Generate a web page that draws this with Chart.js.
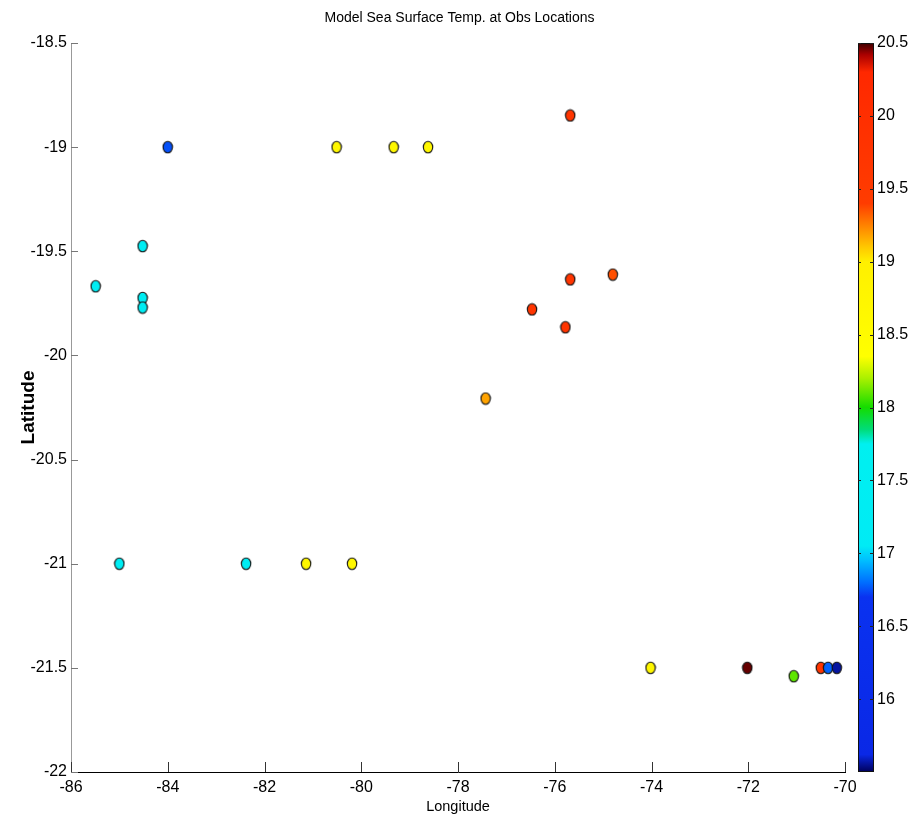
<!DOCTYPE html>
<html>
<head>
<meta charset="utf-8">
<title>Model Sea Surface Temp. at Obs Locations</title>
<script src="https://cdn.jsdelivr.net/npm/chart.js@4/dist/chart.umd.min.js"></script>
<style>
  html, body { margin: 0; padding: 0; background: #fff; }
  #wrap { width: 919px; height: 820px; }
</style>
</head>
<body>
<div id="wrap"><canvas id="sstChart" width="919" height="820"></canvas></div>
<script>
const lon = [-84.0, -80.51, -79.33, -78.62, -75.68, -84.52, -85.49, -84.52, -84.52, -75.68, -74.8, -76.47,
  -75.78, -77.43, -85.0, -82.38, -81.14, -80.19, -74.02, -72.02, -71.06, -70.5, -70.35, -70.17]
const lat = [-19.0, -19.0, -19.0, -19.0, -18.848, -19.475, -19.668, -19.724, -19.77, -19.635, -19.612, -19.779,
  -19.865, -20.207, -21.0, -21.0, -21.0, -21.0, -21.5, -21.5, -21.54, -21.5, -21.5, -21.5]
const sst = [16.75, 18.7, 18.7, 18.7, 19.7, 17.3, 17.3, 17.3, 17.3, 19.7, 19.36, 19.7,
  19.7, 19.18, 17.3, 17.3, 18.7, 18.7, 18.7, 20.47, 18.1, 19.7, 16.78, 15.56]

const lonTicks = [-86, -84, -82, -80, -78, -76, -74, -72, -70]
const latTicks = [-22, -21.5, -21, -20.5, -20, -19.5, -19, -18.5]
const cbTicks = [16, 16.5, 17, 17.5, 18, 18.5, 19, 19.5, 20, 20.5]
const cbRange = [15.5, 20.5]

// colour map (jet-like, as in the colorbar)
const cmapValues = [15.5, 15.62, 16.7, 16.8, 16.95, 17.05, 17.75, 17.85, 18.0, 18.2, 18.35, 19.0, 19.1, 19.25, 19.4, 20.3, 20.42, 20.5]
const cmapColors = [
  [0, 0, 90], [10, 40, 230], [10, 50, 240], [0, 110, 255], [0, 190, 255], [0, 235, 245], [0, 240, 240],
  [0, 220, 120], [20, 220, 0], [170, 240, 0], [255, 255, 0], [255, 240, 0], [255, 200, 0], [255, 130, 0],
  [255, 60, 0], [255, 40, 0], [170, 0, 0], [60, 0, 0]
]

const FONT = "'Liberation Sans', Arial, sans-serif"

function colorFor(v) {
  if (v <= cmapValues[0]) return "rgb(" + cmapColors[0].join(",") + ")"
  for (let i = 1; i < cmapValues.length; i++) {
    if (v <= cmapValues[i]) {
      const t = (v - cmapValues[i - 1]) / (cmapValues[i] - cmapValues[i - 1])
      const a = cmapColors[i - 1], b = cmapColors[i]
      const c = a.map((x, k) => Math.round(x + (b[k] - x) * t))
      return "rgb(" + c.join(",") + ")"
    }
  }
  return "rgb(" + cmapColors[cmapColors.length - 1].join(",") + ")"
}

// slightly tall ellipse markers like the original
const markerCache = {}
function marker(color) {
  if (markerCache[color]) return markerCache[color]
  const c = document.createElement("canvas")
  c.width = 12
  c.height = 14
  const g = c.getContext("2d")
  g.beginPath()
  g.ellipse(6, 7, 4.7, 5.7, 0, 0, Math.PI * 2)
  g.fillStyle = color
  g.fill()
  g.lineWidth = 1.1
  g.strokeStyle = "#111"
  g.stroke()
  markerCache[color] = c
  return c
}

const points = lon.map((x, i) => ({ x: x, y: lat[i] }))
const pointColors = sst.map(colorFor)

// inward tick marks on x / y axes
const innerTicks = {
  id: "innerTicks",
  afterDraw(chart) {
    const { ctx, chartArea } = chart
    const xs = chart.scales.x, ys = chart.scales.y
    ctx.save()
    ctx.lineWidth = 1
    ctx.strokeStyle = "#333"
    lonTicks.forEach((v) => {
      const px = Math.round(xs.getPixelForValue(v)) + 0.5
      ctx.beginPath()
      ctx.moveTo(px, chartArea.bottom)
      ctx.lineTo(px, chartArea.bottom - 10)
      ctx.stroke()
    })
    ctx.strokeStyle = "#777"
    latTicks.forEach((v) => {
      const py = Math.round(ys.getPixelForValue(v)) + 0.5
      ctx.beginPath()
      ctx.moveTo(chartArea.left, py)
      ctx.lineTo(chartArea.left + 7, py)
      ctx.stroke()
    })
    ctx.restore()
  },
}

// colorbar drawn in the room of the right-hand scale
const colorbar = {
  id: "colorbar",
  afterDraw(chart) {
    const { ctx, chartArea } = chart
    const cb = chart.scales.cb
    const top = cb.getPixelForValue(cbRange[1])
    const bottom = cb.getPixelForValue(cbRange[0])
    const left = chartArea.right + 13
    const w = 16
    const grad = ctx.createLinearGradient(0, bottom, 0, top)
    cmapValues.forEach((v, i) => {
      grad.addColorStop((v - cbRange[0]) / (cbRange[1] - cbRange[0]), "rgb(" + cmapColors[i].join(",") + ")")
    })
    ctx.save()
    ctx.fillStyle = grad
    ctx.fillRect(left, top, w, bottom - top)
    ctx.strokeStyle = "#111"
    ctx.lineWidth = 1
    ctx.strokeRect(left + 0.5, top + 0.5, w - 1, bottom - top - 1)
    ctx.strokeStyle = "#222"
    cbTicks.forEach((v) => {
      const py = Math.round(cb.getPixelForValue(v)) + 0.5
      ctx.beginPath()
      ctx.moveTo(left, py)
      ctx.lineTo(left + 3, py)
      ctx.moveTo(left + w - 4, py)
      ctx.lineTo(left + w, py)
      ctx.stroke()
    })
    ctx.restore()
  },
}

const ctx = document.getElementById("sstChart").getContext("2d")
new Chart(ctx, {
  type: "scatter",
  data: {
    datasets: [
      {
        label: "SST",
        data: points,
        pointStyle: (c) => marker(pointColors[c.dataIndex]),
        pointRadius: 5,
        backgroundColor: pointColors,
        borderColor: "#222",
      },
    ],
  },
  options: {
    responsive: false,
    animation: false,
    devicePixelRatio: 1,
    layout: { padding: { left: 0, right: 0, top: 0, bottom: 0 } },
    scales: {
      x: {
        type: "linear",
        min: -86,
        max: -70,
        afterBuildTicks: (s) => { s.ticks = lonTicks.map((v) => ({ value: v })) },
        afterFit: (s) => { s.height = 48 },
        grid: { display: false, drawTicks: false },
        border: { color: "#000", width: 1 },
        ticks: { color: "#000", padding: 6, maxRotation: 0, font: { family: FONT, size: 16 }, callback: (v) => String(v) },
        title: { display: true, text: "Longitude", color: "#000", font: { family: FONT, size: 14.5 }, padding: { top: 0, bottom: 4 } },
      },
      y: {
        type: "linear",
        min: -22,
        max: -18.5,
        afterBuildTicks: (s) => { s.ticks = latTicks.map((v) => ({ value: v })) },
        afterFit: (s) => { s.width = 71 },
        grid: { display: false, drawTicks: false },
        border: { color: "#999", width: 1 },
        ticks: { color: "#000", padding: 4, font: { family: FONT, size: 16 }, callback: (v) => String(v) },
        title: { display: true, text: "Latitude", color: "#000", font: { family: FONT, size: 19, weight: "bold" }, padding: { top: 17, bottom: 0 } },
      },
      cb: {
        type: "linear",
        position: "right",
        axis: "y",
        min: cbRange[0],
        max: cbRange[1],
        afterBuildTicks: (s) => { s.ticks = cbTicks.map((v) => ({ value: v })) },
        afterFit: (s) => { s.width = 74 },
        grid: { display: false, drawTicks: false },
        border: { display: false },
        ticks: { color: "#000", padding: 32, font: { family: FONT, size: 16 }, callback: (v) => String(v) },
      },
    },
    plugins: {
      legend: { display: false },
      tooltip: { enabled: false },
      title: {
        display: true,
        text: "Model Sea Surface Temp. at Obs Locations",
        color: "#000",
        font: { family: FONT, size: 14, weight: "normal" },
        padding: { top: 10, bottom: 16.2 },
      },
    },
  },
  plugins: [innerTicks, colorbar],
})
</script>
</body>
</html>
